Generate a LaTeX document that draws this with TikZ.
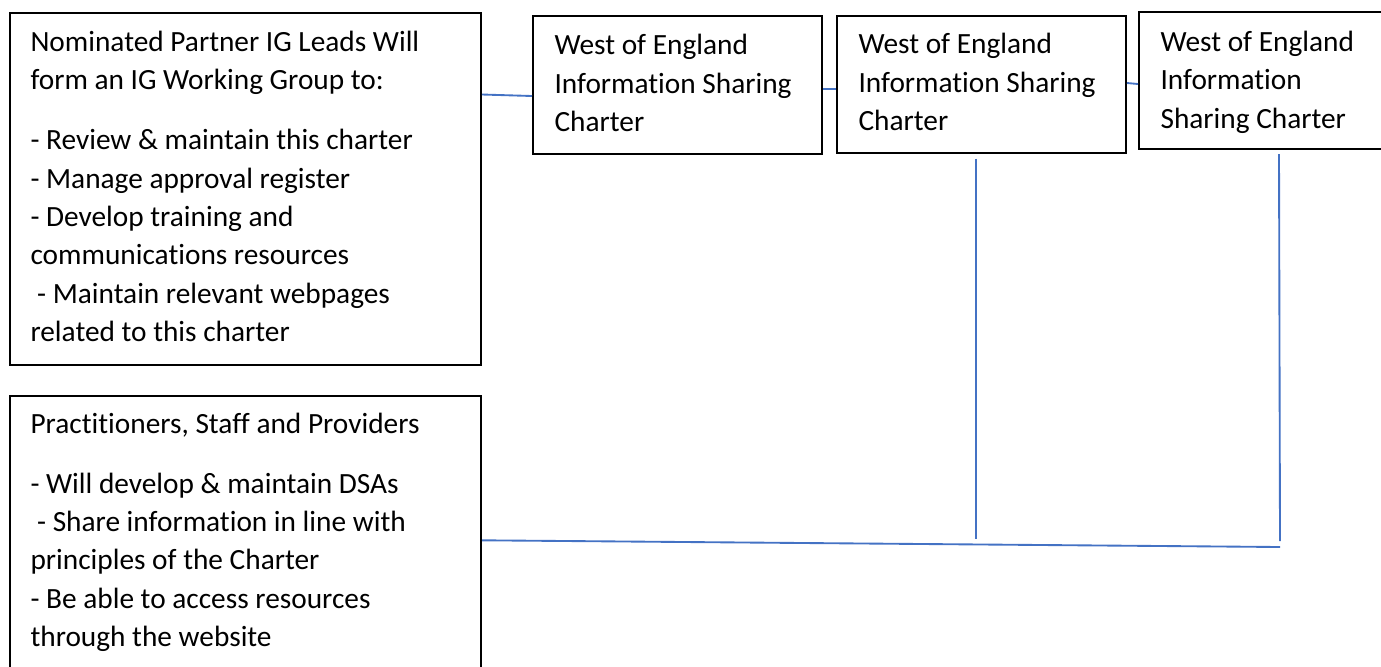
\documentclass[tikz,border=0pt]{standalone}
\usepackage{fontspec}
\setmainfont{Carlito}[Ligatures=NoCommon]
\usetikzlibrary{fit,calc}
\definecolor{linkblue}{HTML}{4472C4}
\tikzset{
  box/.style={draw=black, line width=0.75pt, inner sep=0pt, fill=none},
  % multi-line texts are placed by the baseline of their last line
  txt/.style={anchor=base west, align=left, inner sep=0pt,
    font=\fontsize{11}{14.4}\selectfont},
  link/.style={draw=linkblue, line width=0.7pt},
}
\begin{document}
\begin{tikzpicture}[x=0.375pt, y=-0.375pt]
\useasboundingbox (0,0) rectangle (1381,666);
\clip (0,0) rectangle (1381,666);

% governance boxes on the left
\node[box, fit={(10,13) (481,365)}] (ig) {};
\node[box, fit={(10,396) (481,690)}] (prac) {};

% charter boxes along the top
\node[box, fit={(533,16) (822,154)}] (ch1) {};
\node[box, fit={(837,16) (1126,153)}] (ch2) {};
\node[box, fit={(1139,12) (1400,149)}] (ch3) {};

% texts
\node[txt] (igtext) at (30,341.7) {Nominated Partner IG Leads Will\\
form an IG Working Group to:\\[8pt]
- Review \& maintain this charter\\
- Manage approval register\\
- Develop training and\\
communications resources\\
\ - Maintain relevant webpages\\
related to this charter};

\node[txt] (practext) at (30,646.7) {Practitioners, Staff and Providers\\[8pt]
- Will develop \& maintain DSAs\\
\ - Share information in line with\\
principles of the Charter\\
- Be able to access resources\\
through the website};

\node[txt] (ch1text) at (554,131.7) {West of England\\Information Sharing\\Charter};
\node[txt] (ch2text) at (858,130.5) {West of England\\Information Sharing\\Charter};
\node[txt] (ch3text) at (1160,128.3) {West of England\\Information\\Sharing Charter};

% connectors
\draw[link] ($(ig.north east)+(0,82.5)$) -- ($(ch1.north west)+(0,81)$);
\draw[link] ($(ch1.north east)+(0,74)$) -- ($(ch2.north west)+(0,74)$);
\draw[link] ($(ch2.north east)+(0,68)$) -- ($(ch3.north west)+(0,73)$);
\draw[link] ($(ch2.south west)+(140,4.5)$) -- ($(ch2.south west)+(140,384.5)$);
\coordinate (join) at (1280,547);
\draw[link] ($(ch3.south west)+(141,4)$) -- ($(join)+(0,-6)$);
\draw[link] ($(prac.north east)+(0,145.3)$) -- (join);
\end{tikzpicture}
\end{document}
